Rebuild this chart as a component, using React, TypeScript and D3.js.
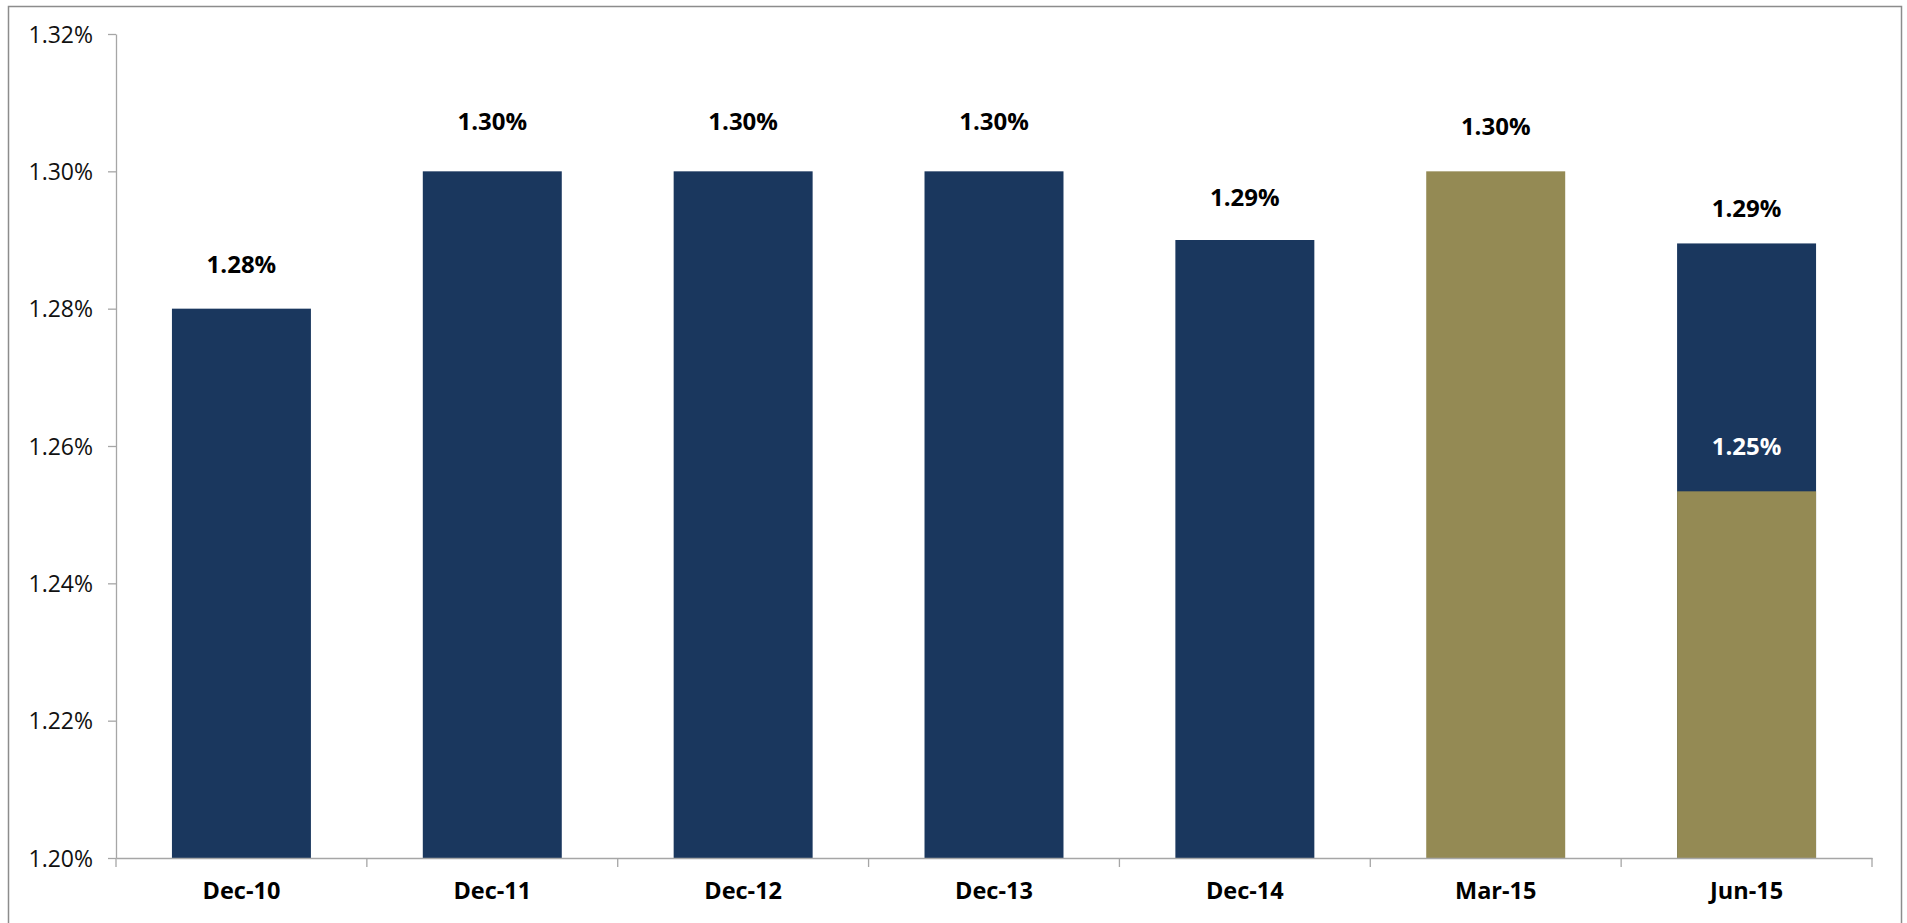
import React, { useEffect, useRef } from "react";
import * as d3 from "d3";

const categories = ["Dec-10", "Dec-11", "Dec-12", "Dec-13", "Dec-14", "Mar-15", "Jun-15"];
// navy series (full bar heights, % values)
const navyValues: (number | null)[] = [1.28, 1.3, 1.3, 1.3, 1.29, null, 1.2895];
// olive/gold series (% values)
const goldValues: (number | null)[] = [null, null, null, null, null, 1.3, 1.2534];
const yTicks = [1.2, 1.22, 1.24, 1.26, 1.28, 1.3, 1.32];

const NAVY = "#1a375e";
const GOLD = "#948a54";
const FONT = "'Open Sans', 'Liberation Sans', sans-serif";

export default function App() {
  const ref = useRef<SVGSVGElement | null>(null);

  useEffect(() => {
    const svg = d3.select(ref.current);
    svg.selectAll("*").remove();

    const x0 = 116, x1 = 1872, yTop = 34, yBot = 858;
    const pad = 0.446;
    const x = d3.scaleBand<string>().domain(categories).range([x0, x1]).paddingInner(pad).paddingOuter(pad / 2);
    const y = d3.scaleLinear().domain([1.2, 1.32]).range([yBot, yTop]);

    // outer border
    svg.append("rect").attr("x", 8.5).attr("y", 6.5).attr("width", 1893).attr("height", 940)
      .attr("fill", "white").attr("stroke", "#8c8c8c").attr("stroke-width", 1.5);

    // bars
    const g = svg.append("g");
    categories.forEach((c, i) => {
      const nv = navyValues[i];
      if (nv != null) {
        g.append("rect").attr("x", x(c)!).attr("width", x.bandwidth())
          .attr("y", y(nv)).attr("height", y(1.2) - y(nv)).attr("fill", NAVY);
      }
      const gv = goldValues[i];
      if (gv != null) {
        g.append("rect").attr("x", x(c)!).attr("width", x.bandwidth())
          .attr("y", y(gv)).attr("height", y(1.2) - y(gv)).attr("fill", GOLD);
      }
    });

    // y axis
    const yAxis = d3.axisLeft(y).tickValues(yTicks).tickSizeInner(8).tickSizeOuter(0)
      .tickFormat((d) => (d as number).toFixed(2) + "%").tickPadding(15);
    const ya = svg.append("g").attr("transform", `translate(${x0},0)`).call(yAxis);
    ya.select(".domain").attr("stroke", "#a6a6a6").attr("stroke-width", 1.3);
    ya.selectAll(".tick line").attr("stroke", "#a6a6a6").attr("stroke-width", 1.3);
    ya.selectAll(".tick text").attr("font-family", FONT).attr("font-size", 23)
      .attr("fill", "#111").attr("dy", "0.35em");

    // x axis
    const xAxis = d3.axisBottom(x).tickSize(0).tickFormat(() => "");
    const xa = svg.append("g").attr("transform", `translate(0,${yBot})`).call(xAxis);
    xa.select(".domain").attr("stroke", "#a6a6a6").attr("stroke-width", 1.3);
    xa.selectAll(".tick").remove();
    const step = x.step();
    const bounds = d3.range(categories.length + 1).map((k) => x0 + k * step);
    xa.selectAll("line.bt").data(bounds).enter().append("line")
      .attr("x1", (d) => d).attr("x2", (d) => d).attr("y1", 0).attr("y2", 9)
      .attr("stroke", "#a6a6a6").attr("stroke-width", 1.3);
    xa.selectAll("text.cl").data(categories).enter().append("text")
      .attr("x", (d) => x(d)! + x.bandwidth() / 2).attr("y", 35)
      .attr("text-anchor", "middle").attr("dominant-baseline", "middle")
      .attr("font-family", FONT).attr("font-size", 23.5).attr("font-weight", 700).attr("fill", "#000")
      .text((d) => d);

    // value labels
    const lift = [42, 48, 48, 48, 40, 43, 33];
    categories.forEach((c, i) => {
      const total = Math.max(navyValues[i] ?? 0, goldValues[i] ?? 0);
      svg.append("text").attr("x", x(c)! + x.bandwidth() / 2).attr("y", y(total) - lift[i])
        .attr("text-anchor", "middle").attr("dominant-baseline", "middle")
        .attr("font-family", FONT).attr("font-size", 24).attr("font-weight", 700).attr("fill", "#000")
        .text(total.toFixed(2) + "%");
      const nv = navyValues[i], gv = goldValues[i];
      if (nv != null && gv != null && gv < nv) {
        svg.append("text").attr("x", x(c)! + x.bandwidth() / 2).attr("y", y(gv) - 43)
          .attr("text-anchor", "middle").attr("dominant-baseline", "middle")
          .attr("font-family", FONT).attr("font-size", 24).attr("font-weight", 700).attr("fill", "#ffffff")
          .text(gv.toFixed(2) + "%");
      }
    });
  }, []);

  return (
    <svg ref={ref} width={1907} height={923}
      style={{ position: "absolute", left: 0, top: 0, display: "block", background: "white" }} />
  );
}
